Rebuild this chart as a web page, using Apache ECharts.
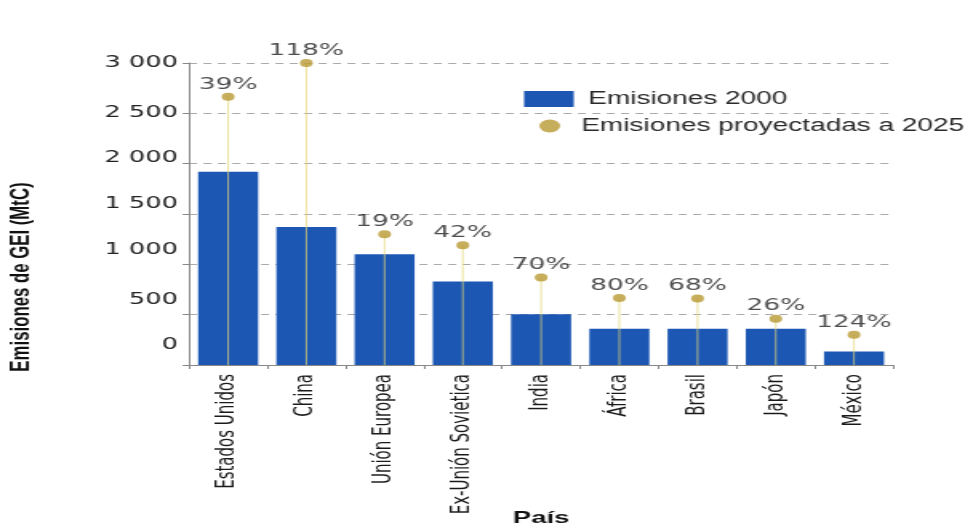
<!DOCTYPE html>
<html>
<head>
<meta charset="utf-8">
<script src="https://cdn.jsdelivr.net/npm/echarts@6/dist/echarts.min.js"></script>
<style>
  html, body { margin: 0; padding: 0; background: #fff; overflow: hidden; }
  #wrap { width: 965px; height: 532px; overflow: hidden; }
  /* the chart is laid out on a narrower canvas and widened horizontally */
  #chart { width: 603px; height: 532px; transform: scaleX(1.6003); transform-origin: 0 0; }
</style>
</head>
<body>
<div id="wrap"><div id="chart"></div></div>
<script>
// Emisiones de GEI por país (MtC)
const paises = ['Estados Unidos', 'China', 'Unión Europea', 'Ex-Unión Sovietica', 'India', 'África', 'Brasil', 'Japón', 'México'];
const emisiones2000 = [1920, 1370, 1100, 830, 505, 360, 360, 360, 135];
const proyectadas2025 = [2665, 3000, 1300, 1190, 870, 665, 660, 460, 300];
const aumento = ['39%', '118%', '19%', '42%', '70%', '80%', '68%', '26%', '124%'];
const yTicks = [0, 500, 1000, 1500, 2000, 2500, 3000];

// vertical lift of each y tick label (px), keyed by tick value
const labelLift = { 0: 20, 500: 15, 1000: 14.5, 1500: 10, 2000: 6, 2500: 0, 3000: 0 };

const numFont = '"DejaVu Sans", sans-serif';
const txtFont = '"Liberation Sans", Arial, sans-serif';

function fmtMiles(v) {
  if (v < 1000) return String(v);
  return Math.floor(v / 1000) + ' ' + String(v % 1000).padStart(3, '0');
}

const rich = {};
yTicks.forEach(function (t, i) {
  rich['t' + i] = { padding: [0, 0, 2 * labelLift[t], 0] };
});

const chart = echarts.init(document.getElementById('chart'));
chart.setOption({
  animation: false,
  backgroundColor: '#fff',
  grid: { left: 118.1, right: 44.9, top: 63, bottom: 167, containLabel: false, outerBoundsMode: 'none' },
  legend: [
    {
      data: ['Emisiones 2000'],
      left: 327.5, top: 90, padding: 0,
      itemWidth: 31, itemHeight: 16,
      icon: 'rect',
      textStyle: { fontFamily: txtFont, fontSize: 17.5, color: '#2a2a2a', padding: [0, 0, 0, 4], lineHeight: 16 }
    },
    {
      data: ['Emisiones proyectadas a 2025'],
      left: 337, top: 117, padding: 0,
      itemWidth: 13, itemHeight: 13,
      icon: 'circle',
      textStyle: { fontFamily: txtFont, fontSize: 17.5, color: '#2a2a2a', padding: [0, 0, 0, 8.2], lineHeight: 13 }
    }
  ],
  xAxis: {
    type: 'category',
    data: paises,
    boundaryGap: true,
    axisLine: { lineStyle: { color: '#888', width: 1 } },
    axisTick: { show: true, length: 4, lineStyle: { color: '#888' } },
    axisLabel: {
      interval: 0, rotate: 90, margin: 9,
      fontFamily: numFont, fontSize: 15, color: '#1a1a1a'
    },
    name: 'País',
    nameLocation: 'middle',
    nameGap: 145,
    nameMoveOverlap: false,
    nameTextStyle: { fontFamily: txtFont, fontWeight: 'bold', fontSize: 17, color: '#111' }
  },
  yAxis: {
    type: 'value',
    min: 0, max: 3000, interval: 500,
    axisLine: { show: true, lineStyle: { color: '#888', width: 1 } },
    axisTick: { show: true, length: 4, lineStyle: { color: '#888' } },
    splitLine: { show: true, lineStyle: { color: '#aaa', type: [5, 4], width: 1 } },
    axisLabel: {
      margin: 7,
      fontFamily: numFont, fontSize: 16, color: '#222',
      formatter: function (v) {
        return '{t' + yTicks.indexOf(v) + '|' + fmtMiles(v) + '}';
      },
      rich: rich
    }
  },
  graphic: [
    {
      type: 'text',
      x: 13.75, y: 277,
      rotation: Math.PI / 2,
      style: {
        text: 'Emisiones de GEI (MtC)',
        fontFamily: txtFont, fontWeight: 'bold', fontSize: 16.8,
        fill: '#111', align: 'center', verticalAlign: 'middle'
      }
    }
  ],
  series: [
    {
      name: 'Emisiones 2000',
      type: 'bar',
      data: emisiones2000,
      barWidth: 37.5,
      itemStyle: { color: '#1c57b3' },
      z: 2
    },
    {
      // stems from the base of each bar up to the projected value
      name: 'tallo',
      type: 'custom',
      data: proyectadas2025.map(function (v, i) { return [i, v]; }),
      encode: { x: 0, y: 1 },
      z: 3,
      silent: true,
      renderItem: function (params, api) {
        const base = api.coord([api.value(0), 0]);
        const top = api.coord([api.value(0), api.value(1)]);
        return {
          type: 'line',
          shape: { x1: base[0], y1: base[1], x2: top[0], y2: top[1] },
          style: { stroke: 'rgba(228,214,115,0.7)', lineWidth: 1 }
        };
      }
    },
    {
      name: 'Emisiones proyectadas a 2025',
      type: 'scatter',
      data: proyectadas2025,
      symbol: 'circle',
      symbolSize: 8,
      itemStyle: { color: '#b99a33' },
      z: 4,
      label: {
        show: true,
        position: 'top',
        distance: 0,
        fontFamily: numFont, fontSize: 16.5, color: '#222',
        formatter: function (p) { return aumento[p.dataIndex]; }
      }
    }
  ]
});
</script>
</body>
</html>
